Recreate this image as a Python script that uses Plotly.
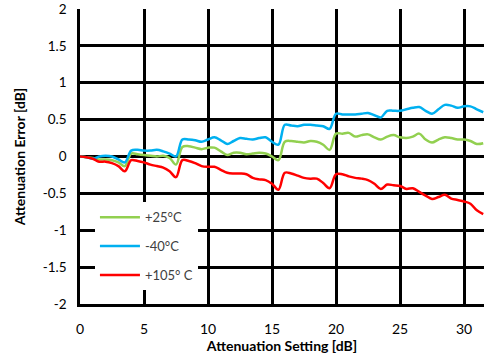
import plotly.graph_objects as go

atten = [i * 0.5 for i in range(64)]

err_25 = [0, -0.01, -0.02, -0.04, -0.04, -0.05, -0.08, -0.13, 0.04, 0.03,
          0.02, 0.01, 0.0, 0.01, -0.02, -0.11, 0.13, 0.14, 0.12, 0.10,
          0.12, 0.12, 0.07, 0.02, 0.05, 0.05, 0.03, 0.04, 0.05, 0.04,
          0.0, -0.05, 0.20, 0.21, 0.20, 0.19, 0.21, 0.20, 0.16, 0.09,
          0.31, 0.31, 0.32, 0.27, 0.29, 0.30, 0.26, 0.23, 0.27, 0.29,
          0.26, 0.25, 0.27, 0.31, 0.23, 0.19, 0.23, 0.26, 0.25, 0.23,
          0.23, 0.21, 0.17, 0.18]

err_m40 = [0, -0.01, -0.03, 0.0, 0.01, 0.0, -0.04, -0.08, 0.08, 0.09,
           0.08, 0.08, 0.09, 0.07, 0.04, 0.0, 0.23, 0.23, 0.22, 0.20,
           0.23, 0.26, 0.22, 0.17, 0.21, 0.25, 0.24, 0.23, 0.25, 0.26,
           0.20, 0.16, 0.43, 0.42, 0.41, 0.43, 0.43, 0.42, 0.41, 0.375,
           0.58, 0.57, 0.57, 0.57, 0.58, 0.59, 0.56, 0.53, 0.62, 0.62,
           0.62, 0.64, 0.66, 0.67, 0.62, 0.58, 0.64, 0.70, 0.69, 0.66,
           0.68, 0.68, 0.64, 0.60]

err_105 = [0, -0.01, -0.03, -0.07, -0.07, -0.09, -0.13, -0.20, -0.05, -0.06,
           -0.08, -0.11, -0.13, -0.15, -0.20, -0.28, -0.05, -0.06, -0.09, -0.13,
           -0.14, -0.14, -0.18, -0.22, -0.23, -0.23, -0.24, -0.29, -0.31, -0.32,
           -0.37, -0.45, -0.22, -0.23, -0.26, -0.29, -0.30, -0.30, -0.36, -0.43,
           -0.24, -0.24, -0.27, -0.29, -0.30, -0.32, -0.37, -0.44, -0.38, -0.39,
           -0.40, -0.44, -0.43, -0.48, -0.53, -0.575, -0.55, -0.52, -0.57, -0.59,
           -0.61, -0.64, -0.73, -0.78]

x_ticks = [0, 5, 10, 15, 20, 25, 30]
y_ticks = [-2, -1.5, -1, -0.5, 0, 0.5, 1, 1.5, 2]

series = [
    ("+25°C", err_25, "#92D050"),
    ("-40°C", err_m40, "#00B0F0"),
    ("+105° C", err_105, "#FF0000"),
]

fig = go.Figure()
for name, ys, col in series:
    fig.add_trace(go.Scatter(
        x=atten, y=ys, name=name, mode="lines",
        line=dict(color=col, width=2.5, shape="spline", smoothing=1.0),
        legendgroup=name,
    ))

font_main = "Lato, 'Open Sans', sans-serif"
fig.update_layout(
    width=484, height=360,
    margin=dict(l=80, r=0, t=9, b=56),
    paper_bgcolor="white", plot_bgcolor="white",
    font=dict(family=font_main, size=13, color="#000000"),
    showlegend=True,
    legend=dict(
        x=0.037, y=0.345, xanchor="left", yanchor="top",
        bgcolor="white", borderwidth=0,
        font=dict(size=13, color="#404040", family=font_main),
        tracegroupgap=9, itemwidth=40,
    ),
    xaxis=dict(
        range=[0, 31.56], tickvals=x_ticks, ticktext=[str(v) for v in x_ticks],
        showgrid=True, gridcolor="black", gridwidth=2.5,
        showline=True, linecolor="black", linewidth=2.5,
        zeroline=False, ticks="", ticklabelstandoff=10,
        tickfont=dict(size=14, color="#000000"),
        title=dict(text="<b>Attenuation Setting [dB]</b>", font=dict(size=14), standoff=2),
    ),
    yaxis=dict(
        range=[-2, 2], tickvals=y_ticks, ticktext=[f"{v:g}" for v in y_ticks],
        showgrid=True, gridcolor="black", gridwidth=2.5,
        showline=True, linecolor="black", linewidth=2.5,
        zeroline=False, ticks="", ticklabelstandoff=8,
        tickfont=dict(size=13.5, color="#000000"),
        title=dict(text="<b>Attenuation Error [dB]</b>", font=dict(size=14), standoff=14),
    ),
)

fig.write_html("out.html")
